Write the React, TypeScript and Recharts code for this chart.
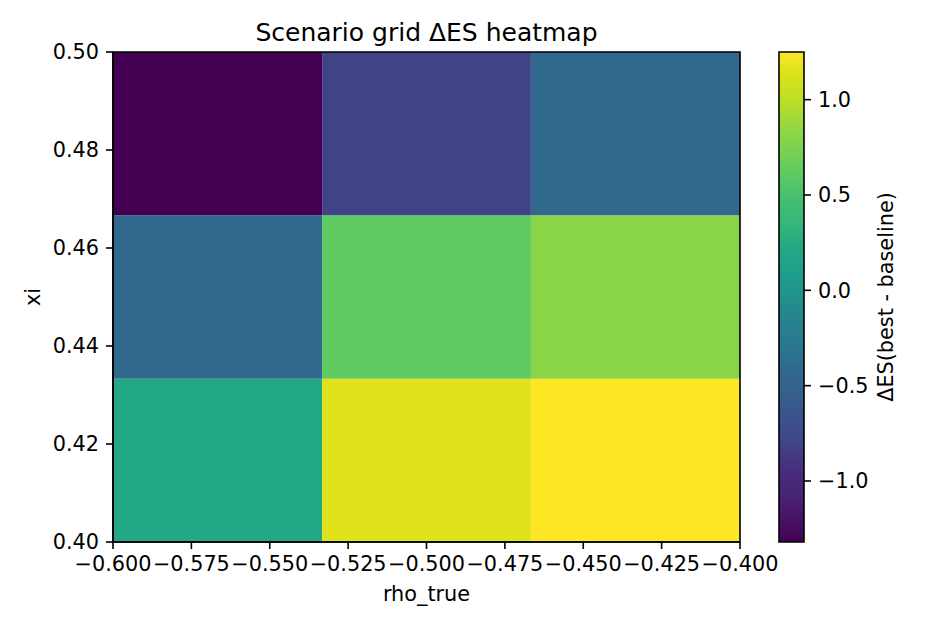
import { ScatterChart, Scatter, XAxis, YAxis, ReferenceArea } from 'recharts';

const rhoEdges = [-0.6, -0.5333, -0.4667, -0.4];
const xiEdges = [0.4, 0.4333, 0.4667, 0.5];

// one array per xi row (low -> high), columns follow rho (low -> high)
const deltaEsXiLow = [0.22, 1.15, 1.25];
const deltaEsXiMid = [-0.42, 0.61, 0.81];
const deltaEsXiHigh = [-1.32, -0.81, -0.42];

const rhoTicks = [-0.6, -0.575, -0.55, -0.525, -0.5, -0.475, -0.45, -0.425, -0.4];
const xiTicks = [0.4, 0.42, 0.44, 0.46, 0.48, 0.5];
const cbarTicks = [-1, -0.5, 0, 0.5, 1];

const VMIN = -1.32;
const VMAX = 1.25;

const VIRIDIS = [
  '#440154', '#471365', '#482475', '#472f7d', '#414487', '#3b528b', '#355f8d',
  '#31688e', '#2a788e', '#26828e', '#21918c', '#1f9e89', '#22a884', '#35b779',
  '#44bf70', '#5ec962', '#7ad151', '#95d840', '#bddf26', '#d8e219', '#fde725',
];

const FONT = '"DejaVu Sans", sans-serif';

function hexToRgb(h: string) {
  return [1, 3, 5].map((i) => parseInt(h.slice(i, i + 2), 16));
}

function viridis(v: number) {
  const t = Math.min(1, Math.max(0, (v - VMIN) / (VMAX - VMIN)));
  const pos = t * (VIRIDIS.length - 1);
  const lo = Math.floor(pos);
  const hi = Math.min(VIRIDIS.length - 1, lo + 1);
  const f = pos - lo;
  const a = hexToRgb(VIRIDIS[lo]);
  const b = hexToRgb(VIRIDIS[hi]);
  const c = a.map((x, i) => Math.round(x + (b[i] - x) * f));
  return `rgb(${c[0]},${c[1]},${c[2]})`;
}

const rows = [deltaEsXiLow, deltaEsXiMid, deltaEsXiHigh];
const cells = rows.flatMap((row, r) =>
  row.map((value, c) => ({
    x1: rhoEdges[c],
    x2: rhoEdges[c + 1],
    y1: xiEdges[r],
    y2: xiEdges[r + 1],
    x: (rhoEdges[c] + rhoEdges[c + 1]) / 2,
    y: (xiEdges[r] + xiEdges[r + 1]) / 2,
    value,
  }))
);

const minus = (s: string) => s.replace('-', '\u2212');
const tickStyle = { fill: '#000', fontSize: 20.8, fontFamily: FONT };
const tickLine = { stroke: '#000', strokeWidth: 1.6 };

export default function App() {
  return (
    <div style={{ position: 'absolute', left: 0, top: 0, width: 930, height: 630, background: '#fff', fontFamily: FONT }}>
      <ScatterChart width={930} height={630} margin={{ top: 52, right: 190, bottom: 48, left: 53 }}>
        <XAxis
          type="number"
          dataKey="x"
          domain={[-0.6, -0.4]}
          ticks={rhoTicks}
          interval={0}
          allowDataOverflow
          height={40}
          tickSize={7}
          tickMargin={7}
          tick={tickStyle}
          tickLine={tickLine}
          axisLine={tickLine}
          tickFormatter={(v: number) => minus(v.toFixed(3))}
        />
        <YAxis
          type="number"
          dataKey="y"
          domain={[0.4, 0.5]}
          ticks={xiTicks}
          interval={0}
          allowDataOverflow
          width={60}
          tickSize={7}
          tickMargin={7}
          tick={tickStyle}
          tickLine={tickLine}
          axisLine={tickLine}
          tickFormatter={(v: number) => v.toFixed(2)}
        />
        {cells.map((c, i) => (
          <ReferenceArea
            key={`cell-${i}`}
            x1={c.x1}
            x2={c.x2}
            y1={c.y1}
            y2={c.y2}
            fill={viridis(c.value)}
            fillOpacity={1}
            stroke="none"
          />
        ))}
        <ReferenceArea x1={-0.6} x2={-0.4} y1={0.4} y2={0.5} fill="none" stroke="#000" strokeWidth={1.6} />
        <Scatter data={cells} isAnimationActive={false} shape={() => <g />} />
      </ScatterChart>

      <div style={{ position: 'absolute', left: 740, top: 0 }}>
        <ScatterChart width={190} height={630} margin={{ top: 52, right: 76, bottom: 88, left: 39 }}>
          <defs>
            <linearGradient id="viridisBar" x1="0" y1="1" x2="0" y2="0">
              {VIRIDIS.map((col, i) => (
                <stop key={col} offset={`${(i / (VIRIDIS.length - 1)) * 100}%`} stopColor={col} />
              ))}
            </linearGradient>
          </defs>
          <XAxis type="number" dataKey="x" domain={[0, 1]} hide />
          <YAxis
            type="number"
            dataKey="v"
            orientation="right"
            domain={[VMIN, VMAX]}
            ticks={cbarTicks}
            interval={0}
            allowDataOverflow
            width={50}
            tickSize={7}
            tickMargin={7}
            tick={tickStyle}
            tickLine={tickLine}
            axisLine={false}
            tickFormatter={(v: number) => minus(v.toFixed(1))}
          />
          <ReferenceArea x1={0} x2={1} y1={VMIN} y2={VMAX} fill="url(#viridisBar)" fillOpacity={1} stroke="#000" strokeWidth={1.6} />
          <Scatter data={[{ x: 0.5, v: 0 }]} isAnimationActive={false} shape={() => <g />} />
        </ScatterChart>
      </div>

      <div style={{ position: 'absolute', left: 113, width: 627, top: 18, textAlign: 'center', fontSize: 25, lineHeight: '30px', color: '#000' }}>
        Scenario grid ΔES heatmap
      </div>
      <div style={{ position: 'absolute', left: 113, width: 627, top: 582, textAlign: 'center', fontSize: 20.8, lineHeight: '24px', color: '#000' }}>
        rho_true
      </div>
      <div
        style={{
          position: 'absolute', left: 33, top: 297, fontSize: 20.8, lineHeight: '24px', color: '#000',
          transform: 'translate(-50%, -50%) rotate(-90deg)', whiteSpace: 'nowrap',
        }}
      >
        xi
      </div>
      <div
        style={{
          position: 'absolute', left: 886, top: 297, fontSize: 20.8, lineHeight: '24px', color: '#000',
          transform: 'translate(-50%, -50%) rotate(-90deg)', whiteSpace: 'nowrap',
        }}
      >
        ΔES(best - baseline)
      </div>
    </div>
  );
}
